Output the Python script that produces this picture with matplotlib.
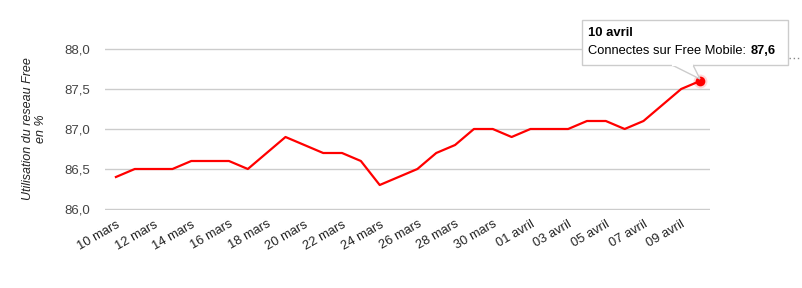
import matplotlib
matplotlib.use('Agg')
import matplotlib.pyplot as plt
from matplotlib.patches import Polygon

plt.rcParams['font.family'] = ['Liberation Sans', 'DejaVu Sans']

# data
days = ['10 mars', '11 mars', '12 mars', '13 mars', '14 mars', '15 mars', '16 mars',
        '17 mars', '18 mars', '19 mars', '20 mars', '21 mars', '22 mars', '23 mars',
        '24 mars', '25 mars', '26 mars', '27 mars', '28 mars', '29 mars', '30 mars',
        '31 mars', '01 avril', '02 avril', '03 avril', '04 avril', '05 avril',
        '06 avril', '07 avril', '08 avril', '09 avril', '10 avril']
usage = [86.4, 86.5, 86.5, 86.5, 86.6, 86.6, 86.6, 86.5, 86.7, 86.9, 86.8, 86.7,
         86.7, 86.6, 86.3, 86.4, 86.5, 86.7, 86.8, 87.0, 87.0, 86.9, 87.0, 87.0,
         87.0, 87.1, 87.1, 87.0, 87.1, 87.3, 87.5, 87.6]
y_ticks = [86.0, 86.5, 87.0, 87.5, 88.0]
y_tick_labels = ['86,0', '86,5', '87,0', '87,5', '88,0']

W, H = 802, 288
fig = plt.figure(figsize=(W / 100, H / 100), dpi=100)
ax = fig.add_axes([105 / W, 1 - 210 / H, (710 - 105) / W, (210 - 48) / H])

x = list(range(len(days)))
ax.plot(x, usage, color='#ff0000', lw=1.6, zorder=3)
# soft halo + last point marker
ax.plot(x[-1], usage[-1], 'o', color='#ff0000', ms=10, alpha=0.15, mew=0, zorder=4)
ax.plot(x[-1], usage[-1], 'o', color='#ff0000', ms=7, mew=0, zorder=4)

ax.set_xlim(-0.58, 31.53)
ax.set_ylim(85.9875, 88.0125)
ax.set_yticks(y_ticks)
ax.set_yticklabels(y_tick_labels, color='#444444', fontsize=9.5)
ax.set_xticks(x[::2])
ax.set_xticklabels(days[::2], rotation=30, ha='right', va='top',
                   rotation_mode='anchor', color='#222222', fontsize=9.3)
ax.tick_params(axis='both', length=0)
ax.tick_params(axis='x', pad=6)
ax.tick_params(axis='y', pad=11)
ax.grid(axis='y', color='#cccccc', lw=1)
ax.set_axisbelow(True)
for s in ax.spines.values():
    s.set_visible(False)

ax.set_ylabel('Utilisation du reseau Free\nen %', style='italic', fontsize=9,
              color='#222222', labelpad=12, linespacing=1.1)

# tooltip
def fx(px):
    return px / W

def fy(py):
    return 1 - py / H

box = Polygon([(fx(582), fy(20)), (fx(788), fy(20)), (fx(788), fy(65)), (fx(582), fy(65))],
              closed=True, transform=fig.transFigure, facecolor='white',
              edgecolor='#cccccc', lw=1, zorder=6)
fig.patches.append(box)
tail = Polygon([(fx(672), fy(65)), (fx(700), fy(79)), (fx(693), fy(65))],
               closed=False, transform=fig.transFigure, facecolor='white',
               edgecolor='#cccccc', lw=1, zorder=7)
fig.patches.append(tail)
fig.add_artist(plt.Line2D([fx(673), fx(692)], [fy(65), fy(65)], color='white',
                          lw=1.5, transform=fig.transFigure, zorder=8))
fig.text(fx(588), fy(33), '10 avril', fontsize=9.4, fontweight='bold', va='center', zorder=9)
fig.text(fx(588), fy(51), 'Connectes sur Free Mobile: ', fontsize=9.3, va='center', zorder=9)
fig.text(fx(776), fy(51), '87,6', fontsize=9.3, fontweight='bold', va='center', ha='right', zorder=9)
fig.add_artist(plt.Line2D([fx(789), fx(799)], [fy(58), fy(58)], color='#888888',
                          lw=1, ls=(0, (1, 2)), transform=fig.transFigure))

fig.savefig('out.png', dpi=100)
